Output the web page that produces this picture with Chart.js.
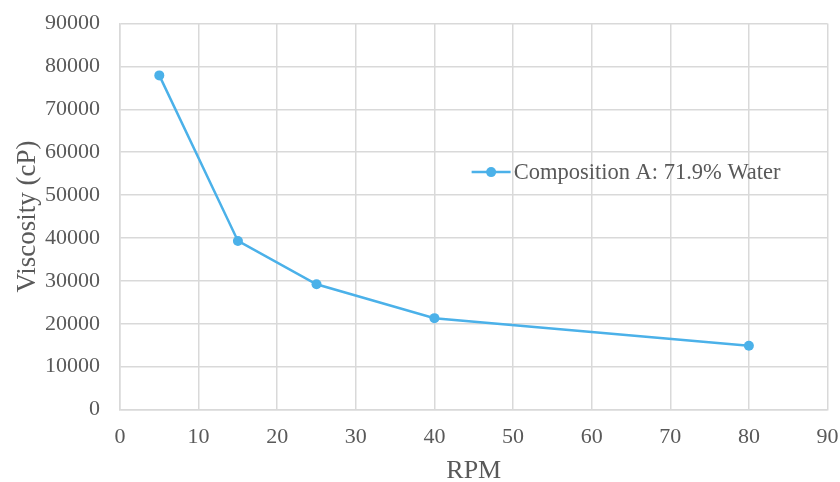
<!DOCTYPE html>
<html>
<head>
<meta charset="utf-8">
<script src="https://cdn.jsdelivr.net/npm/chart.js@4.4.1/dist/chart.umd.min.js"></script>
<style>
  html, body { margin: 0; padding: 0; background: #ffffff; }
  #wrap { width: 840px; height: 482px; }
</style>
</head>
<body>
<div id="wrap"><canvas id="c" width="840" height="482"></canvas></div>
<script>
const rpm = [5, 15, 25, 40, 80];
const viscosity = [77900, 39300, 29200, 21300, 14850];
const seriesLabel = 'Composition A: 71.9% Water';
const xTitle = 'RPM';
const yTitle = 'Viscosity (cP)';

const FONT = '"Liberation Serif", "Times New Roman", serif';
const TEXT = '#595959';
const GRID = '#d9d9d9';
const BLUE = '#4bb1e9';

const legendPlugin = {
  id: 'innerLegend',
  afterDatasetsDraw(chart) {
    const ctx = chart.ctx;
    const a = chart.chartArea;
    const x0 = a.left + (a.right - a.left) * 0.497;
    const y0 = a.top + (a.bottom - a.top) * 0.385;
    ctx.save();
    ctx.strokeStyle = BLUE;
    ctx.lineWidth = 2.5;
    ctx.beginPath();
    ctx.moveTo(x0, y0);
    ctx.lineTo(x0 + 39, y0);
    ctx.stroke();
    ctx.fillStyle = BLUE;
    ctx.beginPath();
    ctx.arc(x0 + 19.5, y0, 5, 0, Math.PI * 2);
    ctx.fill();
    ctx.fillStyle = TEXT;
    ctx.font = '22.5px ' + FONT;
    ctx.textAlign = 'left';
    ctx.textBaseline = 'middle';
    ctx.fillText(seriesLabel, x0 + 42, y0 + 1);
    ctx.restore();
  }
};

new Chart(document.getElementById('c'), {
  type: 'line',
  data: {
    datasets: [{
      label: seriesLabel,
      data: rpm.map((x, i) => ({ x: x, y: viscosity[i] })),
      borderColor: BLUE,
      backgroundColor: BLUE,
      borderWidth: 2.5,
      pointRadius: 5,
      pointHoverRadius: 5,
      pointBackgroundColor: BLUE,
      pointBorderWidth: 0,
      tension: 0,
      fill: false
    }]
  },
  options: {
    responsive: false,
    animation: false,
    devicePixelRatio: 1,
    layout: { padding: { left: 0, right: 12.5, top: 23.5, bottom: 0 } },
    plugins: {
      legend: { display: false },
      tooltip: { enabled: false }
    },
    scales: {
      x: {
        type: 'linear',
        min: 0, max: 90,
        ticks: { stepSize: 10, color: TEXT, font: { family: FONT, size: 22 }, padding: 15, callback: v => String(v) },
        grid: { color: GRID, lineWidth: 1.5, drawTicks: false },
        border: { color: GRID, width: 1.5 },
        title: { display: true, text: xTitle, color: TEXT, font: { family: FONT, size: 26 }, padding: { top: 0, bottom: -5 } },
        afterFit(s) { s.height = 72.5; s.paddingLeft = 0; s.paddingRight = 0; }
      },
      y: {
        type: 'linear',
        min: 0, max: 90000,
        ticks: { stepSize: 10000, color: TEXT, font: { family: FONT, size: 22 }, padding: 20, callback: v => String(v) },
        grid: { color: GRID, lineWidth: 1.5, drawTicks: false },
        border: { color: GRID, width: 1.5 },
        title: { display: true, text: yTitle, color: TEXT, font: { family: FONT, size: 27 }, padding: { top: 12, bottom: 0 } },
        afterFit(s) { s.width = 120; s.paddingTop = 0; s.paddingBottom = 0; }
      }
    }
  },
  plugins: [legendPlugin]
});
</script>
</body>
</html>
